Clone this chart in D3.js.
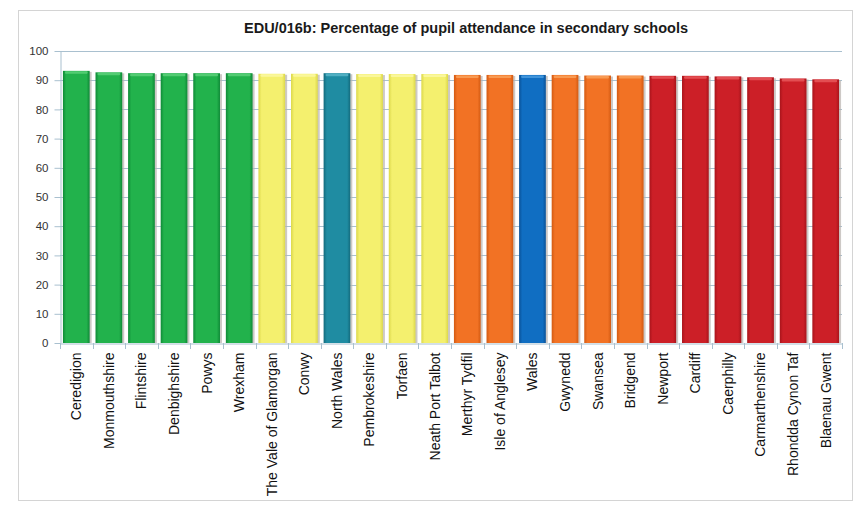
<!DOCTYPE html>
<html>
<head>
<meta charset="utf-8">
<script src="https://cdn.jsdelivr.net/npm/d3@7"></script>
<style>
  html, body { margin: 0; padding: 0; background: #fff; }
  svg { display: block; font-family: "Liberation Sans", Arial, sans-serif; }
</style>
</head>
<body>
<svg id="chart" width="856" height="505"></svg>
<script>
// Secondary school attendance (%) by authority, ordered high to low
const categories = [
  "Ceredigion", "Monmouthshire", "Flintshire", "Denbighshire", "Powys", "Wrexham",
  "The Vale of Glamorgan", "Conwy", "North Wales", "Pembrokeshire", "Torfaen",
  "Neath Port Talbot", "Merthyr Tydfil", "Isle of Anglesey", "Wales", "Gwynedd",
  "Swansea", "Bridgend", "Newport", "Cardiff", "Caerphilly", "Carmarthenshire",
  "Rhondda Cynon Taf", "Blaenau Gwent"
];

const values = [
  93.2, 92.7, 92.4, 92.4, 92.4, 92.4,
  92.2, 92.2, 92.4, 92.1, 92.1,
  92.1, 91.8, 91.8, 91.8, 91.8,
  91.6, 91.6, 91.5, 91.5, 91.3, 91.0,
  90.6, 90.3
];

// Quartile / comparator group for each bar
const groups = [
  "q1", "q1", "q1", "q1", "q1", "q1",
  "q2", "q2", "region", "q2", "q2",
  "q2", "q3", "q3", "wales", "q3",
  "q3", "q3", "q4", "q4", "q4", "q4",
  "q4", "q4"
];

const yTicks = [0, 10, 20, 30, 40, 50, 60, 70, 80, 90, 100];

const palette = {
  q1:     { mid: "#22b24c", edge: "#0f8a37", top: "#5fd27c" },
  q2:     { mid: "#f4f06e", edge: "#dcd84a", top: "#fbf9a8" },
  region: { mid: "#1f8ca2", edge: "#136a7c", top: "#5cb8cb" },
  q3:     { mid: "#f27224", edge: "#d35a12", top: "#f9a45e" },
  wales:  { mid: "#106ec2", edge: "#0a5298", top: "#4c9ee0" },
  q4:     { mid: "#cc1f27", edge: "#a8141b", top: "#e85a5e" }
};

const svg = d3.select("#chart");

// Chart frame
svg.append("rect")
  .attr("x", 18.5).attr("y", 10.5)
  .attr("width", 834).attr("height", 490)
  .attr("fill", "#fff")
  .attr("stroke", "#d4d4d4").attr("stroke-width", 1);

svg.append("text")
  .attr("x", 466).attr("y", 33)
  .attr("text-anchor", "middle")
  .attr("font-size", "14.5px")
  .attr("font-weight", "bold")
  .attr("fill", "#1a1a1a")
  .text("EDU/016b: Percentage of pupil attendance in secondary schools");

const x = d3.scaleBand()
  .domain(categories)
  .range([60, 842])
  .paddingInner(0.18)
  .paddingOuter(0.09);

const y = d3.scaleLinear().domain([0, 100]).range([343, 51]);

// Bar gradients
const defs = svg.append("defs");
Object.entries(palette).forEach(([key, c]) => {
  const g = defs.append("linearGradient")
    .attr("id", "grad-" + key)
    .attr("x1", 0).attr("x2", 1).attr("y1", 0).attr("y2", 0);
  g.append("stop").attr("offset", "0%").attr("stop-color", c.edge);
  g.append("stop").attr("offset", "12%").attr("stop-color", c.mid);
  g.append("stop").attr("offset", "88%").attr("stop-color", c.mid);
  g.append("stop").attr("offset", "100%").attr("stop-color", c.edge);
});

// Gridlines
const gridColor = "#a9c0cf";
svg.append("g")
  .selectAll("line")
  .data(yTicks.filter(t => t > 0))
  .join("line")
  .attr("x1", 60).attr("x2", 842)
  .attr("y1", d => Math.round(y(d)) + 0.5)
  .attr("y2", d => Math.round(y(d)) + 0.5)
  .attr("stroke", gridColor).attr("stroke-width", 1);

// Y axis
const yAxis = svg.append("g")
  .attr("transform", "translate(60.5,0)")
  .call(d3.axisLeft(y).tickValues(yTicks).tickSize(6).tickSizeOuter(0));
yAxis.select(".domain").attr("stroke", gridColor);
yAxis.selectAll(".tick line").attr("stroke", gridColor);
yAxis.selectAll(".tick text")
  .attr("x", -12)
  .attr("font-size", "11.5px")
  .attr("font-family", "'Liberation Sans', Arial, sans-serif")
  .attr("fill", "#333");

// Bar shadows
svg.append("g")
  .selectAll("rect")
  .data(values)
  .join("rect")
  .attr("x", (d, i) => x(categories[i]) + 2)
  .attr("y", d => y(d) + 1)
  .attr("width", x.bandwidth())
  .attr("height", d => y(0) - y(d) - 1)
  .attr("fill", "#b8b2ae")
  .attr("opacity", 0.7);

// Bars
const bars = svg.append("g");
bars.selectAll("rect.bar")
  .data(values)
  .join("rect")
  .attr("class", "bar")
  .attr("x", (d, i) => x(categories[i]))
  .attr("y", d => y(d))
  .attr("width", x.bandwidth())
  .attr("height", d => y(0) - y(d))
  .attr("fill", (d, i) => `url(#grad-${groups[i]})`);

// Bevelled top highlight
bars.selectAll("rect.cap")
  .data(values)
  .join("rect")
  .attr("class", "cap")
  .attr("x", (d, i) => x(categories[i]) + 2)
  .attr("y", d => y(d) + 0.5)
  .attr("width", x.bandwidth() - 4)
  .attr("height", 2.5)
  .attr("rx", 1)
  .attr("fill", (d, i) => palette[groups[i]].top)
  .attr("opacity", 0.8);

// X axis
const xAxis = svg.append("g")
  .attr("transform", "translate(0,343.5)")
  .call(d3.axisBottom(x).tickSize(0).tickSizeOuter(0));
xAxis.select(".domain").attr("stroke", gridColor);
xAxis.selectAll(".tick text")
  .attr("font-size", "14px")
  .attr("font-family", "'Liberation Sans', Arial, sans-serif")
  .attr("fill", "#111")
  .attr("text-anchor", "end")
  .attr("transform", "rotate(-90)")
  .attr("x", -9)
  .attr("y", 0)
  .attr("dy", "0.35em");

// Category boundary ticks
svg.append("g")
  .selectAll("line")
  .data(d3.range(categories.length + 1))
  .join("line")
  .attr("x1", i => Math.round(60 + i * x.step()) + 0.5)
  .attr("x2", i => Math.round(60 + i * x.step()) + 0.5)
  .attr("y1", 343).attr("y2", 349)
  .attr("stroke", gridColor);
</script>
</body>
</html>
